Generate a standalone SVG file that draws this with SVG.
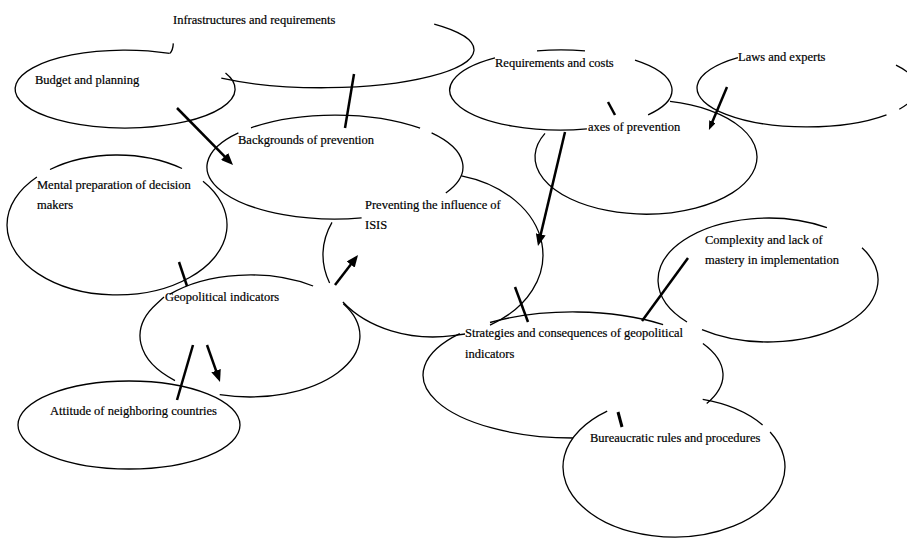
<svg xmlns="http://www.w3.org/2000/svg" width="907" height="541" viewBox="0 0 907 541">
<style>
.o{fill:none;stroke:#000;stroke-width:1.3}
.c{fill:none;stroke:#000;stroke-width:2.5}
text{font-family:"Liberation Serif","Times New Roman",serif;font-size:12.5px;fill:#000;stroke:#000;stroke-width:0.2}
</style>
<defs>
<marker id="ah" markerUnits="userSpaceOnUse" markerWidth="12" markerHeight="10" refX="8" refY="5" orient="auto"><path d="M0,0 L12,5 L0,10 z" fill="#000"/></marker>
<marker id="ahs" markerUnits="userSpaceOnUse" markerWidth="9" markerHeight="7" refX="5" refY="3.5" orient="auto"><path d="M0,0 L9,3.5 L0,7 z" fill="#000"/></marker>
</defs>
<rect width="907" height="541" fill="#fff"/>
<g id="infrastructures">
<path class="o" d="M434.2,24.1 A152,38 0 0 1 221.3,78.2 M170,53.4 Q173,50 173.3,43.4"/>
<text x="173" y="24">Infrastructures and requirements</text>
</g>
<g id="budget">
<path class="o" d="M225.5,73.1 A110,39 0 1 1 169.7,53.4"/>
<text x="35" y="84">Budget and planning</text>
</g>
<g id="backgrounds">
<path class="o" d="M361.6,217.9 A128,52 0 0 1 238.4,132.9 M251,127.8 A128,52 0 0 1 420.1,128.2 M431.6,132.9 A128,52 0 0 1 445.8,193"/>
<text x="238" y="144">Backgrounds of prevention</text>
</g>
<g id="mental">
<path class="o" d="M203,181.3 A110,70 0 1 1 36.9,177 M50,169.5 A110,70 0 0 1 182,168.5"/>
<text x="37" y="189">Mental preparation of decision</text>
<text x="37" y="209">makers</text>
</g>
<g id="preventing">
<path class="o" d="M461.5,175.8 A110,82 0 0 1 490,325.1 M465,334 L453,335.6 A110,82 0 0 1 342.9,302 M329.6,283 A110,82 0 0 1 332,222.4"/>
<text x="365" y="209">Preventing the influence of</text>
<text x="365" y="229">ISIS</text>
</g>
<g id="geopolitical">
<path class="o" d="M343.3,303.7 A110,61 0 0 1 219.7,394.6 M175,380.6 A110,61 0 0 1 156.7,303.7 L164,297 M169.5,294.4 A110,61 0 0 1 313.1,286"/>
<text x="165" y="301">Geopolitical indicators</text>
</g>
<g id="attitude">
<ellipse class="o" cx="129" cy="425" rx="111" ry="44"/>
<text x="50" y="415">Attitude of neighboring countries</text>
</g>
<g id="requirements">
<path class="o" d="M635,60.2 A111,40 0 0 1 648.1,114.8 M586.9,128.9 A111,40 0 0 1 495,57.8 M537,50.9 A111,40 0 0 1 585,50.9"/>
<text x="495" y="67">Requirements and costs</text>
</g>
<g id="axes">
<path class="o" d="M670,101.4 A111,57 0 1 1 545,133.4"/>
<text x="588" y="131">axes of prevention</text>
</g>
<g id="laws">
<path class="o" d="M886.5,114.9 A110,39 0 1 1 737.9,57.6 M896,65.1 A110,39 0 0 1 899.3,109.2"/>
<text x="738" y="61">Laws and experts</text>
</g>
<g id="complexity">
<path class="o" d="M862,247.8 A110,62 0 0 1 702,329.6 M687,322 A110,62 0 0 1 826.9,227.7"/>
<text x="705" y="244">Complexity and lack of</text>
<text x="705" y="264">mastery in implementation</text>
</g>
<g id="strategies">
<path class="o" d="M490,322.5 A150,63 0 0 1 663.1,324.6 M702.9,343.5 A150,63 0 0 1 706.7,403.6 M573,438 A150,63 0 0 1 459.8,333.7"/>
<text x="465" y="337">Strategies and consequences of geopolitical</text>
<text x="465" y="358">indicators</text>
</g>
<g id="bureaucratic">
<path class="o" d="M702.7,399.4 A111,70 0 0 1 762.6,424.9 M770.1,432 A111,70 0 1 1 607.2,411.1"/>
<text x="590" y="442">Bureaucratic rules and procedures</text>
</g>
<g id="connectors">
<line class="c" x1="177" y1="108" x2="230.2" y2="162.1" marker-end="url(#ah)"/>
<line class="c" x1="354" y1="74" x2="345" y2="128"/>
<line class="c" x1="179" y1="262" x2="187" y2="286"/>
<line class="c" x1="335" y1="285" x2="355.6" y2="258.2" marker-end="url(#ah)"/>
<line class="c" x1="193" y1="345" x2="177" y2="400"/>
<line class="c" x1="207" y1="345" x2="218.7" y2="378.2" marker-end="url(#ah)"/>
<line class="c" x1="565" y1="132" x2="538.9" y2="242.1" marker-end="url(#ah)"/>
<line class="c" x1="608" y1="102" x2="615" y2="115"/>
<line class="c" x1="727" y1="87" x2="710.5" y2="126.3" marker-end="url(#ahs)"/>
<line class="c" x1="515" y1="287" x2="528" y2="322"/>
<line class="c" x1="688" y1="258" x2="642" y2="321"/>
<line class="c" x1="618" y1="412" x2="622" y2="427" style="stroke-width:3"/>
</g>
</svg>
